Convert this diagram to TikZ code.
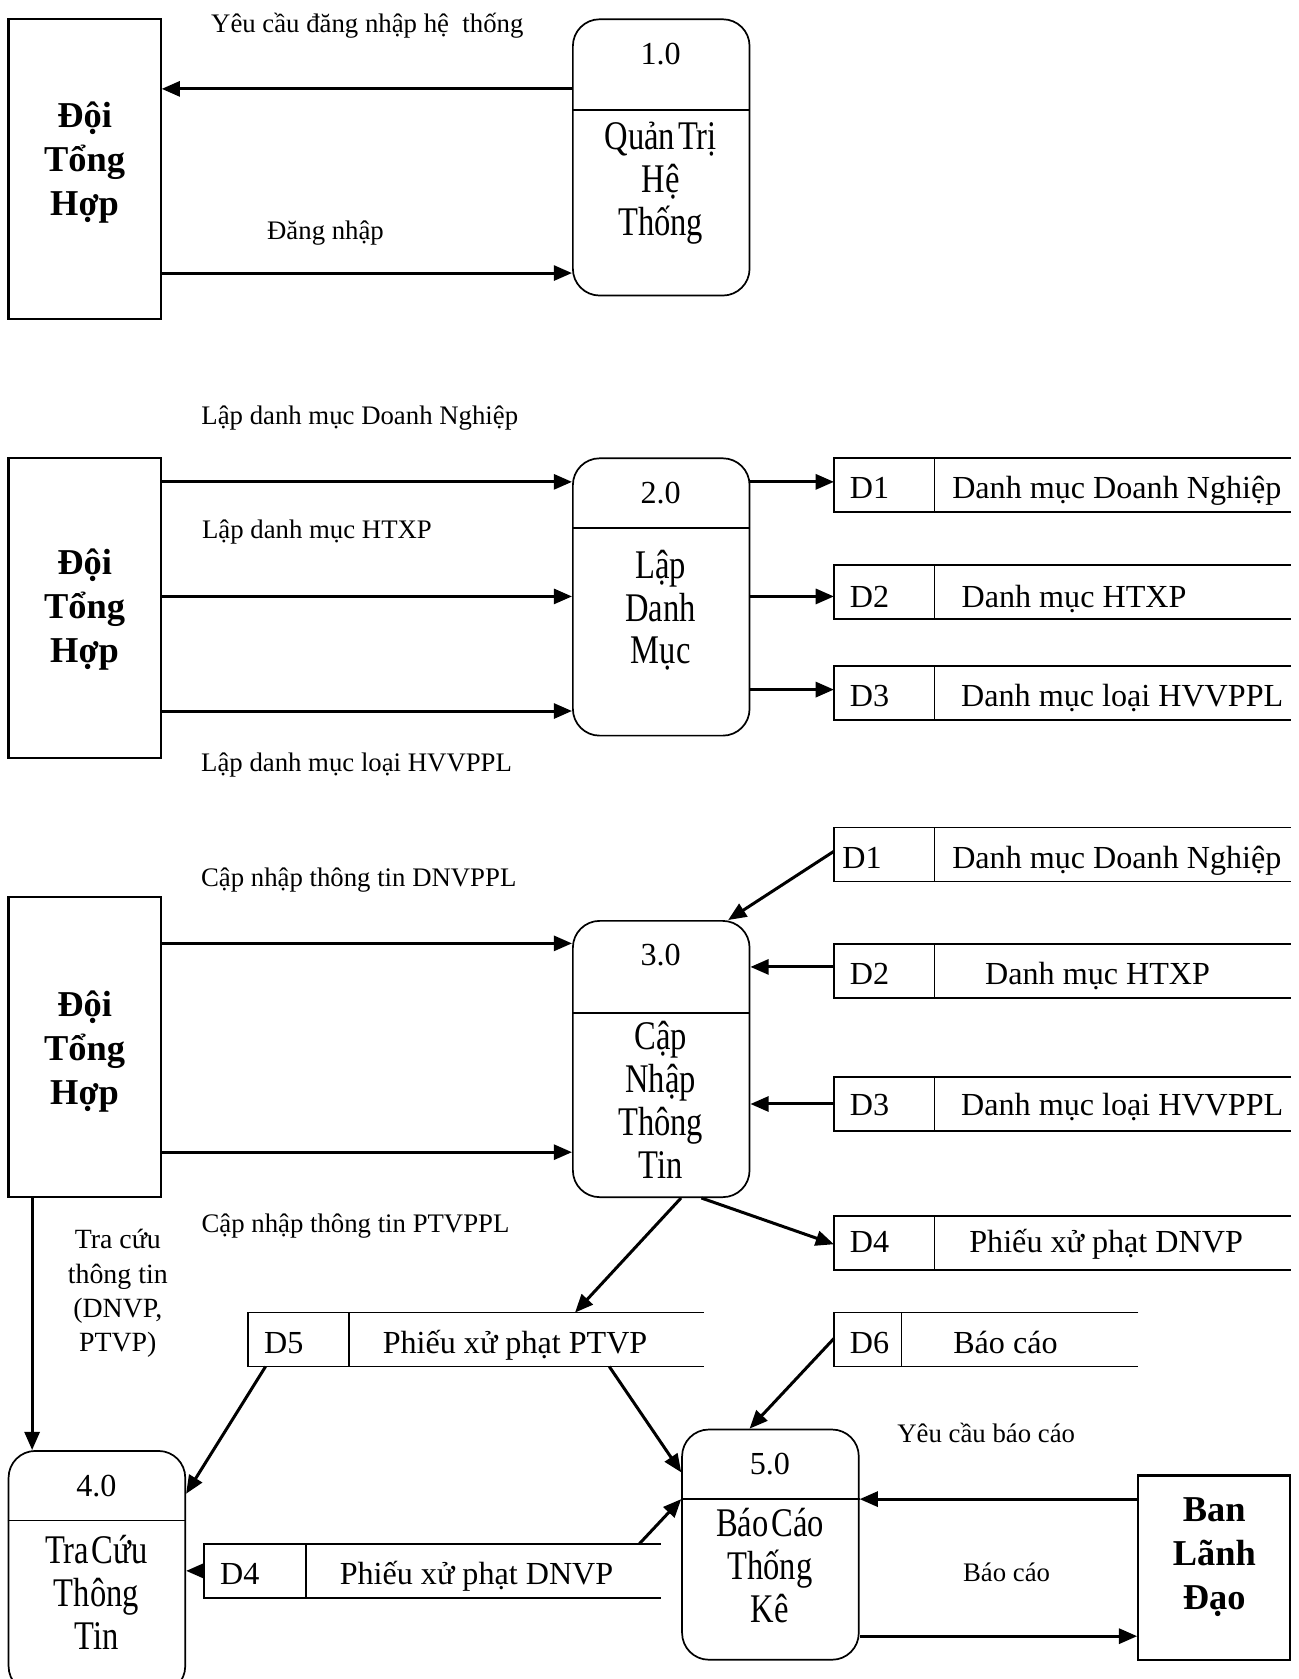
\documentclass[tikz,border=0pt]{standalone}
\usepackage{fontspec}
\setmainfont{Liberation Serif}
\newfontfamily\condfont[FakeStretch=0.8,WordSpace=0.35]{Liberation Serif}
\usetikzlibrary{arrows.meta}
\newcommand\fLbl{\fontsize{25}{30}\selectfont}
\newcommand\fSto{\fontsize{30}{36}\selectfont}
\newcommand\fNum{\fontsize{30}{36}\selectfont}
\newcommand\fPro{\condfont\fontsize{38}{40}\selectfont}
\newcommand\fEnt{\bfseries\fontsize{34}{41}\selectfont}
\newcommand\fTra{\fontsize{26}{32}\selectfont}
\begin{document}
\begin{tikzpicture}[x=1pt,y=-1pt,
  entbox/.style={draw,line width=2pt,minimum width=142pt,inner sep=0pt},
  enttext/.style={font=\fEnt,align=center,inner sep=0pt},
  procbox/.style={draw,line width=1.6pt,rounded corners=25pt,minimum width=165pt,inner sep=0pt},
  protext/.style={font=\fPro,align=center,inner sep=0pt},
  pronum/.style={font=\fNum,inner sep=0pt,text height=20pt,text depth=0pt},
  lbl/.style={font=\fLbl,inner sep=0pt,text height=16.5pt,text depth=0pt},
  stobox/.style={inner sep=0pt,minimum height=50pt},
  stotext/.style={font=\fSto,inner sep=0pt,text height=20pt,text depth=0pt},
  stoline/.style={line width=1.6pt},
  flow/.style={line width=2.8pt,-{Triangle[length=17pt,width=14pt]}}
]
\useasboundingbox (0,0) rectangle (1213,1568);
\clip (0,0) rectangle (1213,1568);

% ---------- Section 1 ----------
\node[entbox,minimum height=280pt] (e1) at (79,158) {};
\node[enttext] (e1t) at (79,152) {Đội\\Tổng\\Hợp};
\node[procbox,minimum height=258pt] (p1) at (617.5,147) {};
\draw[line width=1.6pt] (p1.west |- 0,103) -- (p1.east |- 0,103);
\node[pronum] (p1n) at (617,50) {1.0};
\node[protext] (p1t) at (617,171) {Quản Trị\\Hệ\\Thống};
\draw[flow] (p1.west |- 0,83) -- (e1.east |- 0,83);
\draw[flow] (e1.east |- 0,255) -- (p1.west |- 0,255);
\node[lbl] (l11) at (343,22) {Yêu cầu đăng nhập hệ\ \ thống};
\node[lbl] (l12) at (304,215) {Đăng nhập};

% ---------- Section 2 ----------
\node[entbox,minimum height=280pt] (e2) at (79,568) {};
\node[enttext] (e2t) at (79,569) {Đội\\Tổng\\Hợp};
\node[procbox,minimum height=259pt] (p2) at (617.5,557.5) {};
\draw[line width=1.6pt] (p2.west |- 0,493) -- (p2.east |- 0,493);
\node[pronum] (p2n) at (617,460) {2.0};
\node[protext] (p2t) at (617,570) {Lập\\Danh\\Mục};
\draw[flow] (e2.east |- 0,450) -- (p2.west |- 0,450);
\draw[flow] (e2.east |- 0,557) -- (p2.west |- 0,557);
\draw[flow] (e2.east |- 0,664) -- (p2.west |- 0,664);
\node[lbl] (l21) at (336,388) {Lập danh mục Doanh Nghiệp};
\node[lbl] (l22) at (296,495) {Lập danh mục HTXP};
\node[lbl] (l23) at (333,712) {Lập danh mục loại HVVPPL};

% stores section 2
\node[stobox,minimum width=426pt] (s21) at (992,453) {};
\node[stobox,minimum width=426pt] (s22) at (992,553) {};
\node[stobox,minimum width=426pt] (s23) at (992,647) {};
\foreach \s in {s21,s22,s23}{
  \draw[stoline] (\s.north east) -- (\s.north west) -- (\s.south west) -- (\s.south east);
  \draw[stoline] ([xshift=94pt]\s.north west) -- ([xshift=94pt]\s.south west);
}
\node[stotext] (s21a) at (812,456) {D1};
\node[stotext] (s21b) at (1043,456) {Danh mục Doanh Nghiệp};
\node[stotext] (s22a) at (812,557) {D2};
\node[stotext] (s22b) at (1003,557) {Danh mục HTXP};
\node[stotext] (s23a) at (812,650) {D3};
\node[stotext] (s23b) at (1048,650) {Danh mục loại HVVPPL};
\draw[flow] (p2.east |- 0,450) -- (s21.west |- 0,450);
\draw[flow] (p2.east |- 0,557) -- (s22.west |- 0,557);
\draw[flow] (p2.east |- 0,644) -- (s23.west |- 0,644);

% ---------- Section 3 ----------
\node[entbox,minimum height=280pt] (e3) at (79,978) {};
\node[enttext] (e3t) at (79,982) {Đội\\Tổng\\Hợp};
\node[procbox,minimum height=258pt] (p3) at (617.5,989) {};
\draw[line width=1.6pt] (p3.west |- 0,946) -- (p3.east |- 0,946);
\node[pronum] (p3n) at (617,892) {3.0};
\node[protext] (p3t) at (617,1027) {Cập\\Nhập\\Thông\\Tin};
\draw[flow] (e3.east |- 0,881) -- (p3.west |- 0,881);
\draw[flow] (e3.east |- 0,1076) -- (p3.west |- 0,1076);
\node[lbl] (l31) at (335,820) {Cập nhập thông tin DNVPPL};
\node[lbl] (l32) at (332,1143) {Cập nhập thông tin PTVPPL};

\node[stobox,minimum width=426pt] (s31) at (992,798) {};
\node[stobox,minimum width=426pt] (s32) at (992,907) {};
\node[stobox,minimum width=426pt] (s33) at (992,1031) {};
\node[stobox,minimum width=426pt] (s34) at (992,1161) {};
\foreach \s in {s31,s32,s33,s34}{
  \draw[stoline] (\s.north east) -- (\s.north west) -- (\s.south west) -- (\s.south east);
  \draw[stoline] ([xshift=94pt]\s.north west) -- ([xshift=94pt]\s.south west);
}
\node[stotext] (s31a) at (805,801) {D1};
\node[stotext] (s31b) at (1043,801) {Danh mục Doanh Nghiệp};
\node[stotext] (s32a) at (812,909) {D2};
\node[stotext] (s32b) at (1025,909) {Danh mục HTXP};
\node[stotext] (s33a) at (812,1032) {D3};
\node[stotext] (s33b) at (1048,1032) {Danh mục loại HVVPPL};
\node[stotext] (s34a) at (812,1160) {D4};
\node[stotext] (s34b) at (1033,1160) {Phiếu xử phạt DNVP};
\draw[flow] (s31.west |- 0,795) -- (p3.north -| 680,0);
\draw[flow] (s32.west |- 0,903) -- (p3.east |- 0,903);
\draw[flow] (s33.west |- 0,1031) -- (p3.east |- 0,1031);
\draw[flow] (p3.south -| 655,0) -- (s34.west |- 0,1162);

% D5, D6
\node[stobox,minimum width=425pt] (s5) at (444.5,1251) {};
\draw[stoline] (s5.north east) -- (s5.north west) -- (s5.south west) -- (s5.south east);
\draw[stoline] ([xshift=94pt]s5.north west) -- ([xshift=94pt]s5.south west);
\node[stotext] (s5a) at (265,1254) {D5};
\node[stotext] (s5b) at (481,1254) {Phiếu xử phạt PTVP};
\node[stobox,minimum width=284pt] (s6) at (921,1251) {};
\draw[stoline] (s6.north east) -- (s6.north west) -- (s6.south west) -- (s6.south east);
\draw[stoline] ([xshift=63pt]s6.north west) -- ([xshift=63pt]s6.south west);
\node[stotext] (s6a) at (812,1254) {D6};
\node[stotext] (s6b) at (939,1254) {Báo cáo};
\draw[flow] (p3.south -| 636,0) -- (s5.north -| 537,0);

% Tra cuu
\node[font=\fTra,align=center,inner sep=0pt] (ltra) at (110,1208) {Tra cứu\\thông tin\\(DNVP,\\PTVP)};

% ---------- Section 4 ----------
\node[procbox,minimum height=226pt] (p4) at (90.5,1468) {};
\draw[line width=1.6pt] (p4.west |- 0,1420) -- (p4.east |- 0,1420);
\node[pronum] (p4n) at (90,1388) {4.0};
\node[protext] (p4t) at (90,1487) {Tra Cứu\\Thông\\Tin};
\draw[flow] (e3.south -| 30,0) -- (p4.north -| 30,0);
\draw[flow] (s5.south -| 248,0) -- (p4.east |- 0,1395);

\node[stobox,minimum width=426pt] (s4b) at (404,1467) {};
\draw[stoline] (s4b.north east) -- (s4b.north west) -- (s4b.south west) -- (s4b.south east);
\draw[stoline] ([xshift=95pt]s4b.north west) -- ([xshift=95pt]s4b.south west);
\node[stotext] (s4ba) at (224,1470) {D4};
\node[stotext] (s4bb) at (445,1470) {Phiếu xử phạt DNVP};
\draw[flow] (s4b.west |- 0,1467) -- (p4.east |- 0,1467);

\node[procbox,minimum height=215pt] (p5) at (719.5,1442.5) {};
\draw[line width=1.6pt] (p5.west |- 0,1400) -- (p5.east |- 0,1400);
\node[pronum] (p5n) at (719,1367) {5.0};
\node[protext] (p5t) at (719,1462) {Báo Cáo\\Thống\\Kê};
\draw[flow] (s5.south -| 569,0) -- (p5.west |- 0,1375);
\draw[flow] (s4b.north -| 597,0) -- (p5.west |- 0,1400);
\draw[flow] (s6.west |- 0,1250) -- (p5.north -| 700,0);

\node[entbox,minimum height=172pt] (e5) at (1134,1464) {};
\node[enttext] (e5t) at (1134,1454) {Ban\\Lãnh\\Đạo};
\draw[flow] (e5.west |- 0,1400) -- (p5.east |- 0,1400);
\draw[flow] (p5.east |- 0,1528) -- (e5.west |- 0,1528);
\node[lbl] (l51) at (921,1339) {Yêu cầu báo cáo};
\node[lbl] (l52) at (940,1469) {Báo cáo};
\end{tikzpicture}
\end{document}
